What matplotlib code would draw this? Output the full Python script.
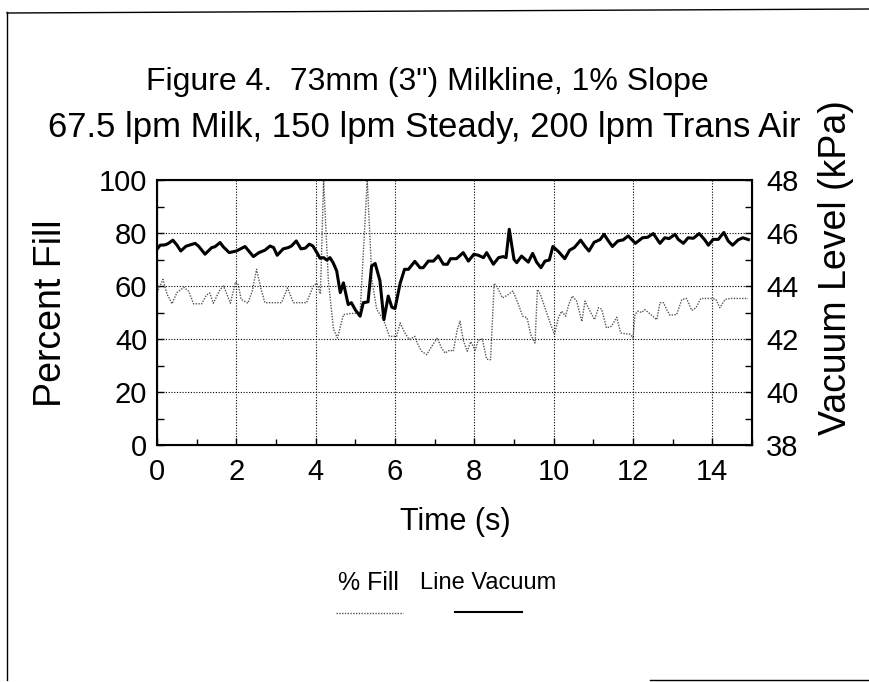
import matplotlib
matplotlib.use("Agg")
import matplotlib.pyplot as plt
from matplotlib.lines import Line2D
from matplotlib.ticker import MultipleLocator

plt.rcParams['font.family'] = ['Liberation Sans', 'DejaVu Sans']

title_line1 = 'Figure 4.  73mm (3") Milkline, 1% Slope'
title_line2 = '67.5 lpm Milk, 150 lpm Steady, 200 lpm Trans Air'

vac_time = [0.00, 0.08, 0.20, 0.28, 0.40, 0.50, 0.60, 0.73, 0.96, 1.05, 1.21, 1.38, 1.46, 1.59, 1.67,
            1.82, 2.00, 2.22, 2.43, 2.57, 2.72, 2.85, 2.94, 3.03, 3.18, 3.31, 3.39, 3.51, 3.63, 3.74,
            3.84, 3.93, 4.03, 4.11, 4.20, 4.28, 4.36, 4.44, 4.53, 4.62, 4.70, 4.82, 4.90, 5.00, 5.12,
            5.20, 5.32, 5.41, 5.50, 5.62, 5.72, 5.83, 5.92, 6.00, 6.13, 6.24, 6.34, 6.50, 6.63, 6.71,
            6.84, 6.97, 7.09, 7.22, 7.32, 7.40, 7.55, 7.72, 7.85, 7.99, 8.10, 8.23, 8.31, 8.48, 8.61,
            8.73, 8.80, 8.88, 9.00, 9.07, 9.19, 9.36, 9.47, 9.57, 9.68, 9.78, 9.89, 9.98, 10.12, 10.28,
            10.40, 10.52, 10.68, 10.79, 10.89, 11.02, 11.17, 11.27, 11.38, 11.48, 11.62, 11.75, 11.88,
            12.06, 12.24, 12.37, 12.51, 12.68, 12.80, 12.91, 13.06, 13.14, 13.27, 13.39, 13.52, 13.67,
            13.81, 13.90, 14.02, 14.15, 14.29, 14.40, 14.51, 14.65, 14.77, 14.91]
vac_kpa = [45.39, 45.54, 45.55, 45.60, 45.73, 45.55, 45.32, 45.50, 45.61, 45.50, 45.20, 45.45, 45.48, 45.64, 45.48,
           45.26, 45.32, 45.49, 45.11, 45.26, 45.35, 45.51, 45.45, 45.16, 45.40, 45.45, 45.51, 45.70, 45.40, 45.43,
           45.58, 45.51, 45.26, 45.05, 45.07, 44.98, 45.07, 44.88, 44.57, 43.75, 44.12, 43.30, 43.37, 43.10, 42.86,
           43.37, 43.40, 44.75, 44.85, 44.20, 42.73, 43.62, 43.20, 43.15, 44.10, 44.63, 44.63, 44.93, 44.69, 44.69,
           44.94, 44.94, 45.14, 44.82, 44.82, 45.03, 45.03, 45.26, 44.94, 45.20, 45.16, 45.07, 45.26, 44.82, 45.07,
           45.11, 45.07, 46.14, 45.00, 44.88, 45.13, 44.90, 45.23, 44.90, 44.69, 44.94, 44.98, 45.49, 45.30, 45.03,
           45.35, 45.45, 45.73, 45.50, 45.32, 45.65, 45.75, 45.95, 45.70, 45.49, 45.70, 45.74, 45.89,
           45.61, 45.82, 45.84, 45.98, 45.61, 45.82, 45.79, 45.95, 45.76, 45.61, 45.82, 45.80, 45.98,
           45.74, 45.54, 45.76, 45.76, 46.02, 45.70, 45.54, 45.74, 45.82, 45.75]

fill_time = [0.00, 0.15, 0.25, 0.38, 0.50, 0.68, 0.80, 0.92, 1.13, 1.24, 1.33, 1.42, 1.59, 1.68, 1.85,
             1.98, 2.05, 2.12, 2.29, 2.40, 2.51, 2.62, 2.72, 3.14, 3.29, 3.44, 3.77, 3.94, 4.03, 4.12,
             4.20, 4.32, 4.45, 4.55, 4.70, 4.87, 5.12, 5.30, 5.42, 5.54, 5.71, 5.86, 6.04, 6.13, 6.24,
             6.36, 6.50, 6.56, 6.67, 6.80, 6.95, 7.07, 7.16, 7.26, 7.38, 7.47, 7.57, 7.64, 7.72, 7.82,
             7.91, 8.02, 8.10, 8.20, 8.31, 8.41, 8.50, 8.58, 8.71, 8.83, 8.97, 9.10, 9.22, 9.33, 9.42,
             9.53, 9.59, 9.66, 9.78, 9.90, 10.02, 10.12, 10.20, 10.30, 10.38, 10.47, 10.58, 10.71, 10.79,
             10.90, 11.03, 11.13, 11.21, 11.33, 11.46, 11.59, 11.69, 11.80, 11.93, 12.00, 12.05, 12.12,
             12.22, 12.30, 12.45, 12.60, 12.68, 12.77, 12.85, 12.93, 13.10, 13.23, 13.35, 13.48, 13.59,
             13.71, 13.82, 13.99, 14.09, 14.19, 14.32, 14.45, 14.90]
fill_pct = [57.5, 62.5, 57.0, 53.3, 57.5, 59.5, 58.0, 53.3, 53.3, 56.5, 57.4, 53.5, 58.7, 60.0, 53.5,
            61.5, 60.5, 55.0, 53.5, 58.0, 66.3, 59.0, 53.7, 53.7, 59.3, 53.7, 53.7, 60.0, 61.0, 57.0,
            100.0, 62.0, 43.6, 40.4, 49.2, 49.6, 49.8, 100.0, 62.0, 51.1, 47.3, 41.0, 41.0, 46.1, 42.5,
            39.8, 41.0, 38.5, 35.4, 34.1, 37.8, 40.4, 37.0, 34.7, 35.8, 35.4, 43.6, 46.7, 39.5, 35.4,
            39.0, 35.8, 39.5, 40.0, 32.4, 32.2, 61.0, 59.5, 55.5, 56.5, 58.1, 53.5, 48.6, 48.0, 41.7,
            38.5, 58.7, 57.0, 51.8, 46.5, 41.7, 48.0, 50.5, 48.6, 53.0, 56.2, 54.3, 46.6, 54.3,
            51.0, 47.3, 51.8, 51.3, 44.2, 44.8, 48.2, 42.3, 42.0, 41.8, 40.4, 49.2, 50.5,
            50.0, 51.1, 49.2, 47.3, 53.7, 53.7, 51.1, 49.0, 49.2, 54.9, 55.3, 50.8, 51.8,
            55.3, 55.3, 55.3, 54.9, 51.8, 54.9, 55.3, 55.3]

x_ticks = [0, 2, 4, 6, 8, 10, 12, 14]
y_ticks = [0, 20, 40, 60, 80, 100]
y2_ticks = [38, 40, 42, 44, 46, 48]

fig = plt.figure(figsize=(8.7, 6.82), dpi=100)
ax = fig.add_axes([157/870, 1-445/682, (752-157)/870, (445-180)/682])

ax.set_xlim(0, 15)
ax.set_ylim(0, 100)
ax.set_xticks(x_ticks)
ax.set_yticks(y_ticks)
ax.xaxis.set_minor_locator(MultipleLocator(1))
ax.yaxis.set_minor_locator(MultipleLocator(10))
ax.grid(True, which='major', color='black', linestyle=(0, (1, 1.5)), linewidth=0.8)
ax.tick_params(axis='both', which='both', direction='in', labelsize=21, length=5, width=1)
ax.tick_params(axis='x', which='major', pad=9)
ax.tick_params(axis='y', which='major', pad=7)
ax.tick_params(axis='x', which='minor', length=4)
for s in ax.spines.values():
    s.set_linewidth(1.5)

ax.plot(fill_time, fill_pct, color='#555555', linestyle=(0, (1, 1)), linewidth=1.0, zorder=3)

ax2 = ax.twinx()
ax2.set_ylim(38, 48)
ax2.set_yticks(y2_ticks)
ax2.yaxis.set_minor_locator(MultipleLocator(1))
ax2.tick_params(axis='y', which='both', direction='in', labelsize=21, length=5, width=1, pad=10)
ax2.plot(vac_time, vac_kpa, color='black', linewidth=2.2, zorder=4)

fig.text(455/870, 1-522/682, 'Time (s)', ha='center', va='center', fontsize=22)
fig.text(51/870, 1-313/682, 'Percent Fill', ha='center', va='center', rotation=90, fontsize=27)
fig.text(836/870, 1-268/682, 'Vacuum Level (kPa)', ha='center', va='center', rotation=90, fontsize=27)

fig.text(427/870, 1-82/682, title_line1, ha='center', va='center', fontsize=23)
fig.text(424/870, 1-127/682, title_line2, ha='center', va='center', fontsize=25)

# legend
fig.text(368/870, 1-583/682, '% Fill', ha='center', va='center', fontsize=18)
fig.text(488/870, 1-583/682, 'Line Vacuum', ha='center', va='center', fontsize=17)
fig.add_artist(Line2D([336/870, 403/870], [1-613/682, 1-613/682], color='#555555',
                      linestyle=(0, (1, 1)), linewidth=1.0, transform=fig.transFigure))
fig.add_artist(Line2D([455/870, 522/870], [1-612/682, 1-612/682], color='black',
                      linewidth=1.5, transform=fig.transFigure))

# outer frame
fig.add_artist(Line2D([7/870, 7/870], [1-12/682, 1-680/682], color='black', linewidth=1.0,
                      transform=fig.transFigure))
fig.add_artist(Line2D([7/870, 870/870], [1-13/682, 1-9/682], color='black', linewidth=1.0,
                      transform=fig.transFigure))
fig.add_artist(Line2D([650/870, 870/870], [1-680/682, 1-680/682], color='black', linewidth=1.0,
                      transform=fig.transFigure))

fig.savefig('out.png', dpi=100)
